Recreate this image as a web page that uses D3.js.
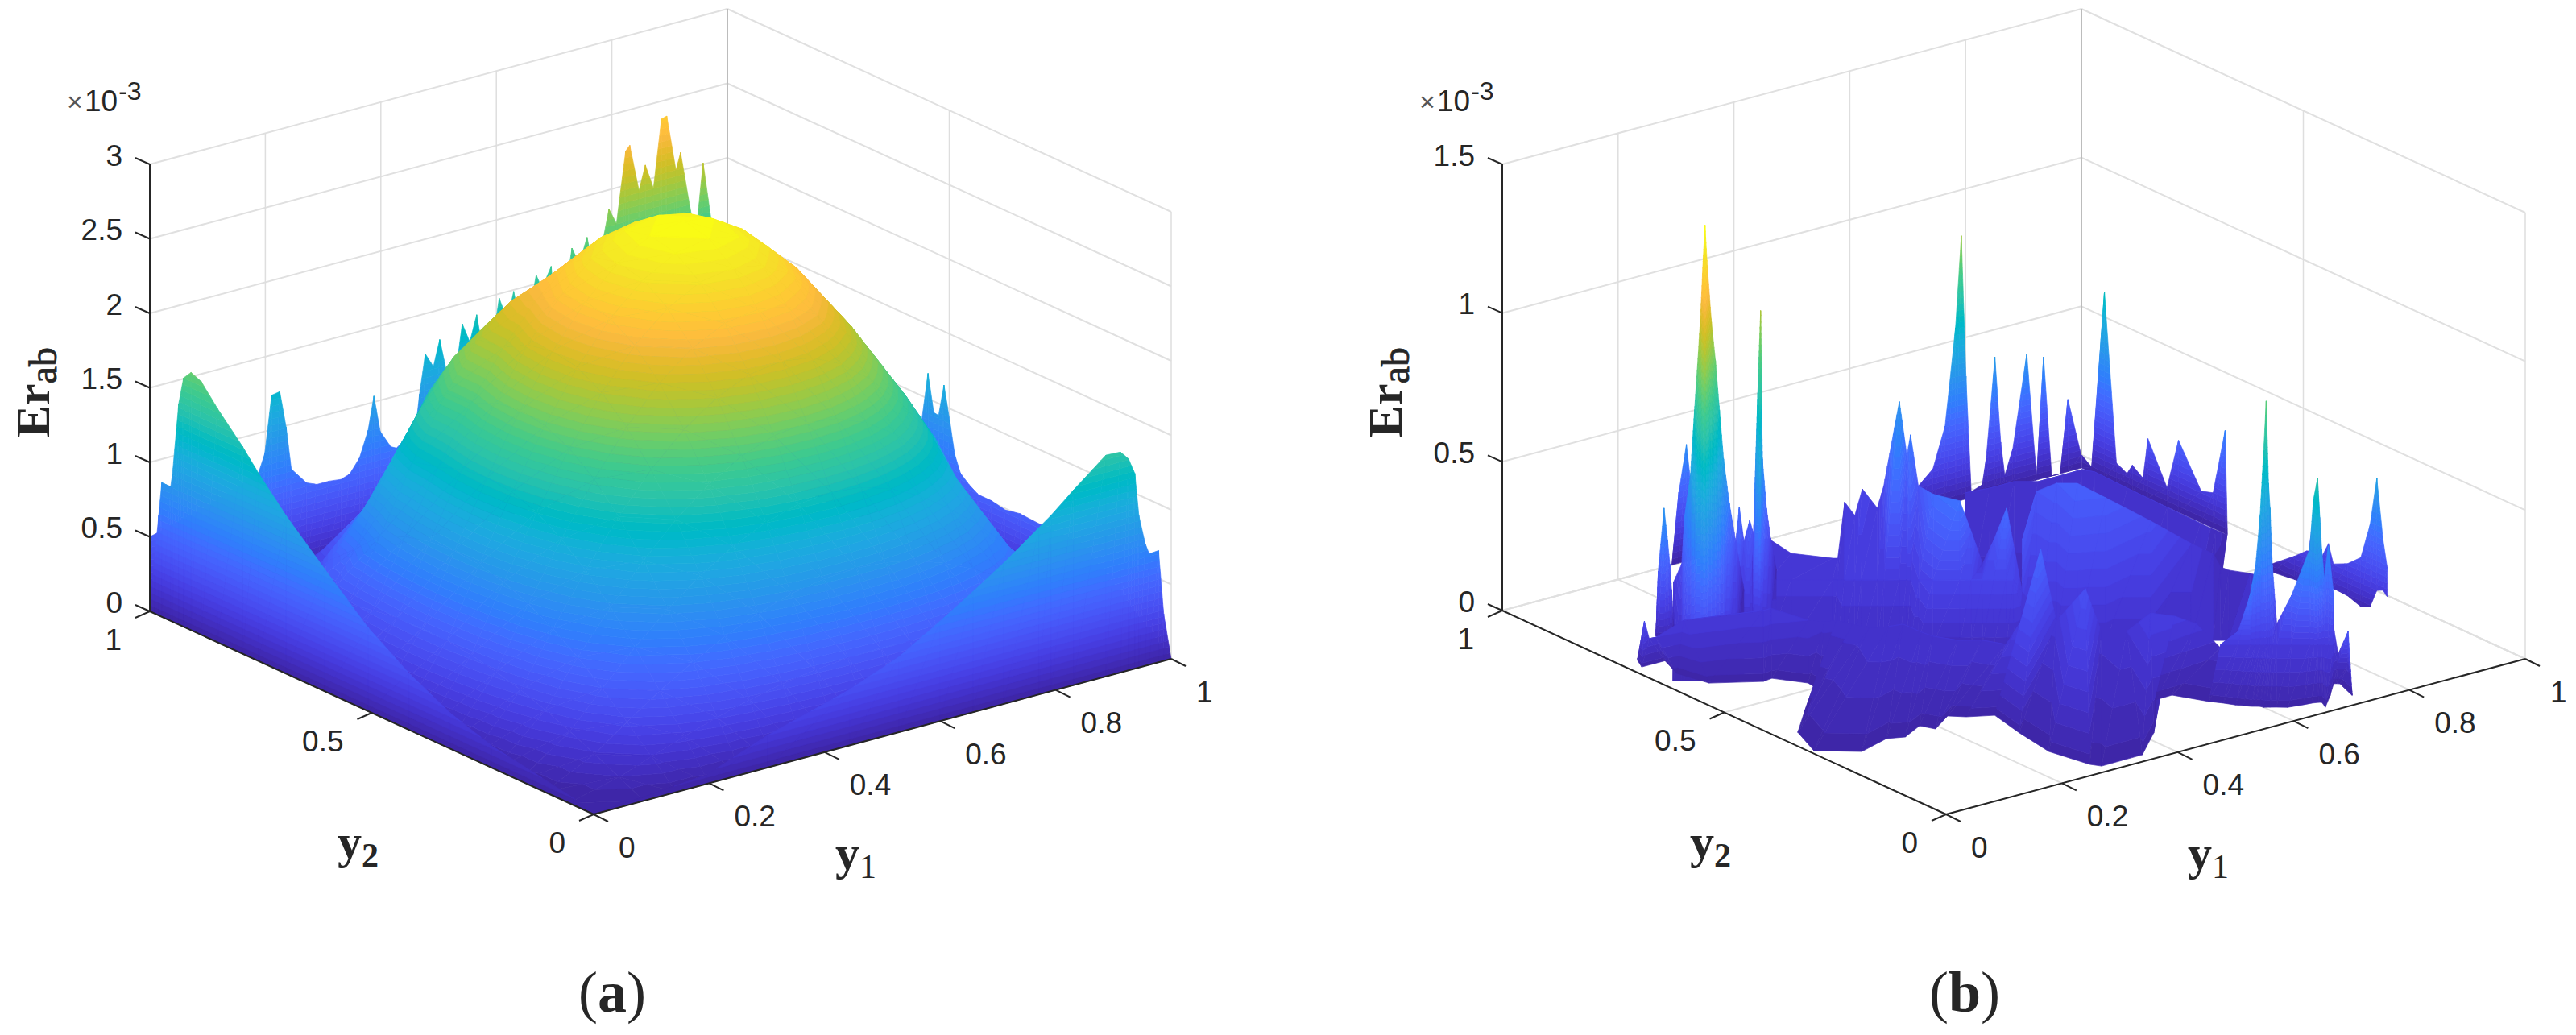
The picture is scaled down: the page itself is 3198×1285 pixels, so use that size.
<!DOCTYPE html>
<html>
<head>
<meta charset="utf-8">
<script src="https://cdn.jsdelivr.net/npm/d3@7"></script>
<style>
  html, body { margin: 0; background: #fff; }
  svg { display: block; }
  text { fill: #262626; }
</style>
</head>
<body>
<svg id="chart" width="3198" height="1285"></svg>
<script>
// tick labels
const y1Ticks = [0, 0.2, 0.4, 0.6, 0.8, 1]
const y2Ticks = [0, 0.5, 1]
const zTicksA = [0, 0.5, 1, 1.5, 2, 2.5, 3]
const zTicksB = [0, 0.5, 1, 1.5]

// matlab parula, 64 rows
const parula = [[.2422,.1504,.6603],[.2504,.165,.7076],[.2578,.1818,.7511],[.2647,.1978,.7952],[.2706,.2147,.8364],[.2751,.2342,.871],[.2783,.2559,.8991],[.2803,.2782,.9221],[.2813,.3006,.9414],[.281,.3228,.9579],[.2795,.3447,.9717],[.276,.3667,.9829],[.2699,.3892,.9906],[.2602,.4123,.9952],[.244,.4358,.9988],[.2206,.4603,.9973],[.1963,.4847,.9892],[.1834,.5074,.9798],[.1786,.5289,.9682],[.1764,.5499,.952],[.1687,.5703,.9359],[.154,.5902,.9218],[.146,.6091,.9079],[.138,.6276,.8973],[.1248,.6459,.8883],[.1113,.6635,.8763],[.0952,.6798,.8598],[.0689,.6948,.8394],[.0297,.7082,.8163],[.0036,.7203,.7917],[.0067,.7312,.766],[.0433,.7411,.7394],[.0964,.75,.712],[.1408,.7584,.6842],[.1717,.767,.6554],[.1938,.7758,.6251],[.2161,.7843,.5923],[.247,.7918,.5567],[.2906,.7973,.5188],[.3406,.8008,.4789],[.3909,.8029,.4354],[.4456,.8024,.3909],[.5044,.7993,.348],[.5616,.7942,.3045],[.6174,.7876,.2612],[.672,.7793,.2227],[.7242,.7698,.191],[.7738,.7598,.1646],[.8203,.7498,.1535],[.8634,.7406,.1596],[.9035,.733,.1774],[.9393,.7288,.21],[.9728,.7298,.2394],[.9956,.7434,.2371],[.997,.7659,.2199],[.9952,.7893,.2028],[.9892,.8136,.1885],[.9786,.8386,.1766],[.9676,.8639,.1643],[.961,.889,.1537],[.9597,.9135,.1423],[.9628,.9373,.1265],[.9691,.9606,.1064],[.9769,.9839,.0805]]

// ---- panel (a), z in units of 1e-3 ----
// wall along y2 = 1, seen behind the dome
const aBackLeftY1 = [0,.1,.188,.199,.211,.225,.236,.245,.271,.289,.31,.331,.346,.363,.378,.388,.399,.417,.427,.452,.463,.467,.477,.491,.502,.516,.53,.541,.554,.566,.576,.594,.605,.619,.63,.639,.662,.669,.679,.695,.697,.727,.731,.739,.748,.757,.763,.784,.795,.808,.824,.831,.847,.858,.872,.886,.895,.911,.919,.939,.948,.958,.973,1]
const aBackLeftZ = [.5,.6,.73,.85,1.23,1.24,.99,.7,.58,.55,.55,.54,.56,.65,.82,1.04,.79,.67,.65,.72,.84,.97,1.23,1.13,1.3,1.03,1.06,1.365,1.23,1.4,1.16,1.21,1.47,1.305,1.49,1.32,1.42,1.56,1.46,1.59,1.5,1.58,1.675,1.6,1.61,1.72,1.61,1.66,1.87,1.76,2.23,2.26,1.94,2.1,1.93,2.38,2.39,2.01,2.12,1.65,1.64,2.01,1.58,1]
// wall along y1 = 1
const aBackRightY2 = [1,.7,.563,.548,.535,.524,.512,.499,.488,.475,.456,.434,.405,.374,.341,.294,.2,0]
const aBackRightZ = [1,.8,.81,1.17,.925,.92,1.14,.92,.71,.6,.55,.51,.51,.49,.51,.5,.5,0]
// wall along y1 = 0, in front
const aFrontLeftY2 = [1,.989,.98,.973,.953,.949,.935,.924,.907,.884,.848,.791,.755,.693,.606,.508,.416,.323,.23,.138,.045,0]
const aFrontLeftZ = [0,.37,.67,.9,.9,.99,1.48,1.67,1.73,1.7,1.57,1.39,1.26,1.06,.82,.56,.38,.24,.147,.098,.046,0]
// wall along y2 = 0, in front
const aFrontRightY1 = [0,.195,.301,.4435,.5286,.5997,.657,.71,.771,.792,.831,.887,.912,.926,.937,.944,.955,.962,.978,.987,1]
const aFrontRightZ = [0,.06,.216,.375,.505,.67,.81,.946,1.12,1.18,1.31,1.485,1.48,1.42,1.31,1.02,.82,.745,.75,.315,0]
// the dome
const domeY1 = [0,.087,.143,.2,.257,.313,.37,.427,.483,.54,.591,.642,.693,.744,.796,.847,.898,.949,1]
const domeY2 = [0,.056,.111,.167,.222,.278,.333,.389,.444,.5,.556,.611,.667,.722,.778,.833,.889,.944,1]
const domeZ = [
  [0,0,0,0,0,0,0,0,0,0,0,0,0,0,0,0,0,0,0],
  [0,.083,.163,.238,.307,.365,.413,.448,.47,.477,.47,.448,.413,.365,.307,.238,.163,.083,0],
  [0,.163,.32,.469,.602,.718,.811,.881,.923,.937,.923,.881,.811,.718,.602,.469,.32,.163,0],
  [0,.238,.469,.685,.881,1.049,1.186,1.288,1.349,1.37,1.349,1.288,1.186,1.049,.881,.685,.469,.238,0],
  [0,.307,.602,.881,1.133,1.35,1.526,1.656,1.736,1.762,1.736,1.656,1.526,1.35,1.133,.71,.35,.15,0],
  [0,.365,.718,1.049,1.35,1.608,1.818,1.973,2.068,2.099,2.068,1.973,1.818,1.608,1.35,.9,.53,.15,0],
  [0,.413,.811,1.186,1.526,1.818,2.055,2.231,2.337,2.373,2.337,2.231,2.055,1.818,1.526,1.186,.72,.35,0],
  [0,.448,.881,1.288,1.656,1.973,2.231,2.421,2.537,2.576,2.537,2.421,2.231,1.973,1.656,1.288,.881,.448,0],
  [0,.47,.923,1.349,1.736,2.068,2.337,2.537,2.658,2.699,2.658,2.537,2.337,2.068,1.736,1.349,.923,.47,0],
  [0,.477,.937,1.37,1.762,2.099,2.373,2.576,2.699,2.74,2.699,2.576,2.373,2.099,1.762,1.37,.937,.477,0],
  [0,.47,.923,1.349,1.736,2.068,2.337,2.537,2.658,2.699,2.658,2.537,2.337,2.068,1.736,1.349,.923,.47,0],
  [0,.448,.881,1.288,1.656,1.973,2.231,2.421,2.537,2.576,2.537,2.421,2.231,1.973,1.656,1.288,.881,.448,0],
  [0,.413,.811,1.25,1.65,1.95,2.15,2.231,2.337,2.373,2.337,2.231,2.055,1.818,1.526,1.186,.811,.413,0],
  [0,.365,.65,1.12,1.48,1.76,1.92,1.973,2.068,2.099,2.068,1.973,1.818,1.608,1.35,1.049,.718,.365,0],
  [0,.307,.5,.78,1.1,1.45,1.62,1.656,1.736,1.762,1.736,1.656,1.526,1.35,1.133,.881,.602,.307,0],
  [0,.2,.28,.4,.7,.9,1.186,1.288,1.349,1.37,1.349,1.288,1.186,1.049,.881,.685,.469,.238,0],
  [0,.12,.18,.3,.42,.58,.811,.881,.923,.937,.923,.881,.811,.718,.602,.469,.32,.163,0],
  [0,.06,.1,.12,.18,.25,.413,.448,.47,.477,.47,.448,.413,.365,.307,.238,.163,.083,0],
  [0,0,0,0,0,0,0,0,0,0,0,0,0,0,0,0,0,0,0]
]

// ---- panel (b), sheets of [y1, y2, z] rows, back to front ----
const bDarkY1 = [.293,.305,.318,.33,.341]
const bDarkZ = [0,.239,.392,.172,0]
const bRearLeftY1 = [.688,.713,.734,.752,.762,.77,.779,.798,.805,.82,.83,.837,.851,.875,.892,.904,.918,.933,.946,.969]
const bRearLeftZ = [.087,.131,.264,.585,.889,.413,.02,.033,.118,.451,.159,.044,.127,.434,.005,.408,0,0,.243,.043]
const bRearRightY2 = [.96,.938,.909,.882,.858,.846,.822,.811,.768,.742,.691,.664,.637,.632]
const bRearRightZ = [.043,.018,.626,.07,.051,.087,.06,.2,.065,.242,.106,.119,.347,.004]
const bTailY2 = [.479,.428,.401,.396,.387,.377,.372,.368,.352,.341,.309,.279,.258,.243,.229,.22]
const bTailZ = [.028,.089,.125,.128,.246,.385,.256,.125,.183,.122,.145,.186,.312,.477,.278,.195]
const bTailFloor = [0,.01,.01,.01,.02,.02,.02,.02,.03,.04,.037,.021,.036,.1,.11,.095]

const bApronTop = [[.727,.906,.08],[.765,.9,.08],[.807,.9,.08],[.833,.88,.08],[.875,.88,.08],[.91,.881,.08],[.918,.863,.08],[.915,.786,.08],[.913,.693,.08],[.911,.615,.08],[.933,.61,.05],[.948,.604,.03]]
const bApronBot = [[.444,.536,.04],[.47,.516,.04],[.497,.496,.04],[.523,.476,.04],[.549,.456,.04],[.571,.439,.04],[.585,.429,.04],[.62,.402,.04],[.664,.368,.04],[.7,.34,.04],[.716,.328,.04],[.885,.55,.03]]

const bBlobTop = [[.592,.601,.2],[.724,.741,.2],[.751,.731,.22],[.759,.695,.24],[.77,.645,.22],[.799,.581,.17],[.839,.542,.1],[.867,.529,.06],[.851,.492,.05],[.852,.475,.05],[.861,.438,.06],[.866,.418,.06]]
const bBlobBot = [[.454,.421,.06],[.469,.409,.06],[.491,.392,.06],[.514,.375,.06],[.545,.351,.06],[.594,.314,.06],[.638,.28,.06],[.662,.262,.06],[.67,.256,.06],[.679,.249,.06],[.702,.231,.06],[.715,.221,.06]]

const bMidTop = [[.344,.949,.08],[.397,.917,.09],[.387,.854,.09],[.421,.804,.09],[.426,.8,.09],[.56,.959,.1],[.539,.909,.1],[.582,.948,.14],[.581,.913,.1],[.599,.922,.16],[.632,.93,.42],[.632,.913,.25],[.636,.91,.32],[.608,.856,.2],[.548,.743,.28],[.547,.683,.3],[.557,.67,.2],[.571,.663,.09],[.577,.645,.18],[.595,.64,.28],[.601,.631,.15],[.54,.533,.1],[.534,.504,.08]]
const bMidCap = [[.251,.828,.09],[.3,.79,.09],[.324,.772,.09],[.369,.737,.09],[.374,.733,.09],[.375,.718,.1],[.386,.71,.1],[.393,.704,.1],[.411,.691,.1],[.418,.685,.1],[.435,.673,.1],[.443,.667,.1],[.447,.663,.1],[.442,.638,.12],[.443,.608,.14],[.472,.585,.14],[.485,.576,.14],[.497,.567,.14],[.509,.557,.14],[.523,.547,.14],[.531,.541,.14],[.499,.48,.09],[.497,.456,.08]]
const bMidBot = [[.126,.665,.05],[.175,.627,.05],[.199,.609,.05],[.244,.574,.05],[.249,.57,.05],[.257,.564,.05],[.269,.556,.05],[.276,.55,.05],[.293,.537,.05],[.3,.532,.05],[.317,.519,.05],[.325,.513,.05],[.329,.509,.05],[.338,.503,.05],[.354,.491,.05],[.383,.469,.05],[.395,.459,.05],[.408,.45,.05],[.42,.44,.05],[.434,.43,.05],[.442,.424,.05],[.45,.417,.05],[.461,.409,.05]]

const bSmallTop = [[.289,.86,.02],[.296,.86,.173],[.302,.86,.287],[.31,.86,.167],[.32,.86,.232],[.327,.86,.18],[.334,.86,.03]]
const bSmallBot = [[.1708,.7057,.08],[.1752,.7024,.08],[.1787,.6997,.08],[.184,.6957,.08],[.1902,.691,.08],[.1946,.6876,.08],[.199,.6843,.08]]

const bThinTop = [[.3345,.872,.07],[.337,.872,.256],[.344,.872,.694],[.348,.872,.914],[.35,.872,.58],[.351,.872,.414],[.358,.872,.245],[.365,.872,.141],[.375,.872,.03]]
const bThinBot = [[.1937,.688,.08],[.1954,.687,.08],[.1998,.684,.08],[.2025,.682,.08],[.2033,.681,.08],[.2042,.68,.08],[.2086,.677,.08],[.213,.674,.08],[.2191,.669,.08]]

const bTallTop = [[.147,.807,.05],[.185,.855,.1],[.192,.846,.163],[.197,.846,.322],[.207,.846,.453],[.214,.846,.669],[.224,.846,.959],[.229,.846,1.172],[.232,.846,1.28],[.236,.846,1.142],[.243,.846,.949],[.25,.846,.815],[.257,.846,.646],[.264,.846,.477],[.274,.846,.323],[.285,.846,.19],[.299,.846,.02]]
const bTallBot = [[.0056,.6227,.02],[.0064,.622,.02],[.0152,.6154,.02],[.0187,.6127,.02],[.025,.608,.02],[.0293,.6046,.02],[.0354,.6,.02],[.039,.5973,.02],[.0407,.596,.02],[.0433,.594,.02],[.0477,.5906,.02],[.0521,.5872,.02],[.0565,.5839,.02],[.0609,.5805,.02],[.067,.5758,.02],[.074,.5705,.02],[.0828,.5638,.02]]

const bSlimTop = [[.109,.796,0],[.113,.796,.213],[.123,.796,.42],[.129,.796,.31],[.133,.796,.227],[.136,.796,.139],[.14,.796,0]]
const bSlimBot = [[.0854,.765,.03],[.088,.763,.03],[.0942,.758,.03],[.0977,.7555,.03],[.1003,.7535,.03],[.102,.752,.03],[.1047,.75,.03]]

const bFrontTop = [[.019,.72,.02],[.024,.711,.15],[.037,.717,.08],[.048,.716,.08],[.104,.727,.1],[.214,.691,.1],[.228,.691,.1],[.254,.642,.08],[.275,.633,.07],[.292,.628,.07],[.3,.602,.07],[.308,.576,.07],[.327,.556,.08],[.348,.551,.08],[.349,.511,.08],[.352,.489,.08],[.369,.456,.08],[.396,.436,.08],[.412,.403,.08],[.491,.448,.14],[.549,.503,.26],[.515,.424,.09],[.56,.417,.18],[.554,.373,.07],[.575,.343,.08],[.616,.343,.12],[.642,.322,.11],[.661,.298,.09],[.659,.242,.05]]
const bFrontBot = [[.022,.724],[.011,.7],[.051,.7],[.034,.651],[.046,.594],[.109,.554],[.126,.557],[.154,.512],[.15,.483],[.079,.423],[.026,.368],[0,.298],[.05,.255],[.108,.275],[.132,.264],[.174,.287],[.184,.264],[.228,.294],[.246,.276],[.281,.257],[.266,.182],[.254,.1],[.268,.026],[.277,.011],[.348,.012],[.412,.07],[.492,.171],[.522,.172],[.547,.122]]

const bFrontRightTop = [[.659,.242,.05],[.646,.185,.15],[.639,.149,.3],[.674,.182,.36],[.697,.202,.5],[.743,.254,.66],[.765,.277,.8],[.749,.251,.55],[.741,.237,.48],[.735,.224,.3],[.741,.222,.1],[.72,.161,.25],[.729,.132,.42],[.724,.117,.6],[.715,.096,.69],[.742,.122,.42],[.761,.141,.3],[.785,.163,.38],[.766,.126,.25],[.774,.138,.14],[.765,.115,.06],[.731,.048,.2],[.718,.022,.01]]
const bFrontRightCap = [[.632,.206,.1],[.651,.191,.1],[.664,.181,.1],[.67,.177,.1],[.675,.173,.1],[.679,.17,.1],[.682,.168,.1],[.684,.166,.1],[.686,.165,.1],[.689,.163,.1],[.693,.159,.1],[.709,.147,.1],[.729,.132,.1],[.733,.128,.1],[.738,.125,.1],[.742,.122,.1],[.745,.12,.1],[.749,.116,.1],[.755,.112,.1],[.755,.112,.1],[.747,.092,.05],[.758,.084,.05],[.718,.022,.01]]
const bFrontRightBot = [[.547,.122],[.559,.105],[.568,.089],[.575,.08],[.582,.071],[.586,.068],[.591,.064],[.593,.058],[.596,.056],[.6,.053],[.607,.048],[.619,.038],[.643,.033],[.656,.031],[.664,.028],[.668,.025],[.663,.013],[.66,.007],[.692,.038],[.725,.073],[.728,.071],[.732,.067],[.718,.022]]

// ---- helpers ----
const svg = d3.select('#chart')
const fontSans = '"Liberation Sans", Arial, sans-serif'
const fontSerif = '"Liberation Serif", "Times New Roman", serif'

// turn a top row and a bottom row into triangles
function stripTris (top, bot) {
  const tris = []
  for (let i = 0; i < top.length - 1; i++) {
    tris.push([top[i], top[i + 1], bot[i]])
    tris.push([top[i + 1], bot[i + 1], bot[i]])
  }
  return tris
}

function gridTris (ys1, ys2, zz) {
  // far corner first so the near cells paint over it
  const tris = []
  for (let j = ys2.length - 2; j >= 0; j--) {
    for (let i = ys1.length - 2; i >= 0; i--) {
      const p = (a, b) => [ys1[a], ys2[b], zz[b][a]]
      tris.push([p(i + 1, j + 1), p(i, j + 1), p(i + 1, j)])
      tris.push([p(i, j + 1), p(i, j), p(i + 1, j)])
    }
  }
  return tris
}

// clip a triangle to one colour band of z
function clipBand (pts, lo, hi) {
  const cut = (poly, keep, level) => {
    const out = []
    poly.forEach((p, i) => {
      const q = poly[(i + 1) % poly.length]
      const pIn = keep(p[2])
      const qIn = keep(q[2])
      if (pIn) out.push(p)
      if (pIn !== qIn) {
        const t = (level - p[2]) / (q[2] - p[2])
        out.push([p[0] + (q[0] - p[0]) * t, p[1] + (q[1] - p[1]) * t, level])
      }
    })
    return out
  }
  return cut(cut(pts, z => z >= lo, lo), z => z <= hi, hi)
}

function drawPanel (conf) {
  const g = svg.append('g')
  const vx1 = d3.scaleLinear().domain([0, 1]).range([0, conf.y1Vec[0]])
  const vy1 = d3.scaleLinear().domain([0, 1]).range([0, conf.y1Vec[1]])
  const vx2 = d3.scaleLinear().domain([0, 1]).range([0, conf.y2Vec[0]])
  const vy2 = d3.scaleLinear().domain([0, 1]).range([0, conf.y2Vec[1]])
  const vz = d3.scaleLinear().domain([0, conf.zMax]).range([0, -conf.zPx])
  const px = (a, b) => conf.front[0] + vx1(a) + vx2(b)
  const py = (a, b, z) => conf.front[1] + vy1(a) + vy2(b) + vz(z)
  const line = d3.line()

  // grid behind everything
  const grid = g.append('g').attr('fill', 'none').attr('stroke', '#e0e0e0')
  const seg = (p, q, w, col) => grid.append('path')
    .attr('d', line([[px(p[0], p[1]), py(p[0], p[1], p[2])], [px(q[0], q[1]), py(q[0], q[1], q[2])]]))
    .attr('stroke-width', w).attr('stroke', col || '#e0e0e0')
  conf.zTicks.forEach(z => {
    seg([0, 1, z], [1, 1, z], 2)
    seg([1, 1, z], [1, 0, z], 2)
  })
  y1Ticks.forEach(a => {
    seg([a, 0, 0], [a, 1, 0], 2)
    if (a > 0) seg([a, 1, 0], [a, 1, conf.zMax], a === 1 ? 2 : 1.5, a === 1 ? '#bcbcbc' : '#dedede')
  })
  y2Ticks.forEach(b => {
    seg([0, b, 0], [1, b, 0], 2)
    if (b < 1) seg([1, b, 0], [1, b, conf.zMax], 1.5, '#dedede')
  })

  // surface: every triangle cut into the 64 colour bands
  const step = conf.cMax / 64
  const polys = []
  conf.tris.forEach(tri => {
    const pts = tri.map(p => [px(p[0], p[1]), py(p[0], p[1], p[2]), p[2]])
    const zs = pts.map(p => p[2])
    const k0 = Math.min(63, Math.floor(d3.min(zs) / step))
    const k1 = Math.min(63, Math.floor(d3.max(zs) / step))
    for (let k = k0; k <= k1; k++) {
      const hi = k === 63 ? Infinity : (k + 1) * step
      const poly = clipBand(pts, k * step, hi)
      if (poly.length > 2) polys.push({ k: k, poly: poly })
    }
  })
  const colorOf = k => {
    const c = parula[k]
    return d3.rgb(c[0] * 255, c[1] * 255, c[2] * 255)
  }
  g.append('g').selectAll('path')
    .data(polys)
    .enter().append('path')
    .attr('d', d => 'M' + d.poly.map(p => p[0].toFixed(1) + ',' + p[1].toFixed(1)).join('L') + 'Z')
    .attr('fill', d => colorOf(d.k))
    .attr('stroke', d => colorOf(d.k))
    .attr('stroke-width', 0.7)
    .attr('stroke-linejoin', 'round')

  // axes on top
  const axes = g.append('g').attr('fill', 'none').attr('stroke', '#262626').attr('stroke-width', 2)
  const corner = (a, b, z) => [px(a, b), py(a, b, z)]
  axes.append('path').attr('d', line([corner(0, 1, 0), corner(0, 1, conf.zMax)]))
  axes.append('path').attr('d', line([corner(0, 1, 0), corner(0, 0, 0)]))
  axes.append('path').attr('d', line([corner(0, 0, 0), corner(1, 0, 0)]))

  const labels = g.append('g').attr('font-family', fontSans).attr('font-size', 37)
  conf.zTicks.forEach(z => {
    const c = corner(0, 1, z)
    axes.append('path').attr('d', line([c, [c[0] - 18, c[1] - 8]]))
    labels.append('text').attr('x', c[0] - 34).attr('y', c[1] - 11)
      .attr('text-anchor', 'end').attr('dominant-baseline', 'central').text(z)
  })
  y1Ticks.forEach(a => {
    const c = corner(a, 0, 0)
    axes.append('path').attr('d', line([c, [c[0] + 18, c[1] + 9]]))
    labels.append('text').attr('x', c[0] + 31).attr('y', c[1] + 41)
      .attr('dominant-baseline', 'central').text(a)
  })
  y2Ticks.forEach(b => {
    const c = corner(0, b, 0)
    axes.append('path').attr('d', line([c, [c[0] - 18, c[1] + 8]]))
    labels.append('text').attr('x', c[0] - 35).attr('y', c[1] + 35)
      .attr('text-anchor', 'end').attr('dominant-baseline', 'central').text(b)
  })

  // exponent above the z axis
  const ax = px(0, 1)
  const ex = labels.append('text').attr('x', ax - 103).attr('y', 138)
  ex.append('tspan').attr('font-size', 34).attr('fill', '#555').text('\u00d7')
  ex.append('tspan').attr('x', ax - 81).text('10')
  ex.append('tspan').attr('font-size', 32).attr('dy', -14).attr('dx', 1).text('-3')

  // axis titles
  const zTitle = g.append('text')
    .attr('transform', 'translate(' + (ax - 125) + ',543) rotate(-90)')
    .attr('font-family', fontSerif)
  zTitle.append('tspan').attr('font-size', 60).attr('font-weight', 'bold').text('Er')
  zTitle.append('tspan').attr('font-size', 48).attr('dy', 9)
    .attr('stroke', '#262626').attr('stroke-width', 0.8).text('ab')

  const sub = (x, y, main, idx, wgt) => {
    const t = g.append('text').attr('x', x).attr('y', y).attr('font-family', fontSerif)
    t.append('tspan').attr('font-size', 60).attr('font-weight', 'bold').text(main)
    t.append('tspan').attr('font-size', 42).attr('dy', 11).attr('font-weight', wgt).text(idx)
  }
  sub(px(0, 0) - 318, 1065, 'y', '2', 'bold')
  sub(px(0, 0) + 300, 1079, 'y', '1', 'normal')

  const cap = g.append('text').attr('x', conf.capX).attr('y', 1256)
    .attr('text-anchor', 'middle').attr('font-family', fontSerif).attr('font-size', 72)
  cap.append('tspan').text('(')
  cap.append('tspan').attr('font-weight', 'bold').text(conf.cap)
  cap.append('tspan').text(')')
}

// ---- build the sheets ----
const upright = (ys1, ys2, zz) => ys1.map((a, i) => [a, ys2[i], zz[i]])
const fill = (n, v) => d3.range(n).map(() => v)
const onFloor = rows => rows.map(r => [r[0], r[1], 0])
const lift = (rows, z) => rows.map(r => [r[0], r[1], z])

const aBackLeft = upright(aBackLeftY1, fill(aBackLeftY1.length, 1), aBackLeftZ)
const aBackRight = upright(fill(aBackRightY2.length, 1), aBackRightY2, aBackRightZ)
const aFrontLeft = upright(fill(aFrontLeftY2.length, 0), aFrontLeftY2, aFrontLeftZ)
const aFrontRight = upright(aFrontRightY1, fill(aFrontRightY1.length, 0), aFrontRightZ)

const trisA = [].concat(
  stripTris(aBackRight, onFloor(aBackRight)),
  stripTris(aBackLeft, onFloor(aBackLeft)),
  gridTris(domeY1, domeY2, domeZ),
  stripTris(aFrontLeft, onFloor(aFrontLeft)),
  stripTris(aFrontRight, onFloor(aFrontRight))
)

const bDark = upright(bDarkY1, fill(bDarkY1.length, 1), bDarkZ)
const bRearLeft = upright(bRearLeftY1, fill(bRearLeftY1.length, 0.96), bRearLeftZ)
const bRearRight = upright(fill(bRearRightY2.length, 0.97), bRearRightY2, bRearRightZ)
const bTail = upright(fill(bTailY2.length, 0.93), bTailY2, bTailZ)
const bTailBase = upright(fill(bTailY2.length, 0.93), bTailY2, bTailFloor)

const trisB = [].concat(
  stripTris(bDark, onFloor(bDark)),
  stripTris(bRearLeft, onFloor(bRearLeft)),
  stripTris(bRearRight, onFloor(bRearRight)),
  stripTris(bTail, bTailBase),
  stripTris(bApronTop, bApronBot),
  stripTris(bBlobTop, bBlobBot),
  stripTris(bMidTop, bMidCap),
  stripTris(bMidCap, bMidBot),
  stripTris(bSmallTop, bSmallBot),
  stripTris(bThinTop, bThinBot),
  stripTris(bTallTop, bTallBot),
  stripTris(bSlimTop, bSlimBot),
  stripTris(bFrontTop, lift(bFrontBot, 0.01)),
  stripTris(bFrontRightTop, bFrontRightCap),
  stripTris(bFrontRightCap, lift(bFrontRightBot, 0.01))
)

drawPanel({
  front: [737, 1011], y1Vec: [717, -193], y2Vec: [-551, -252],
  zMax: 3, zPx: 555, cMax: 2.74, zTicks: zTicksA, tris: trisA, cap: 'a', capX: 760
})
drawPanel({
  front: [2416, 1011], y1Vec: [719, -193], y2Vec: [-551, -253],
  zMax: 1.5, zPx: 554, cMax: 1.28, zTicks: zTicksB, tris: trisB, cap: 'b', capX: 2439
})
</script>
</body>
</html>
